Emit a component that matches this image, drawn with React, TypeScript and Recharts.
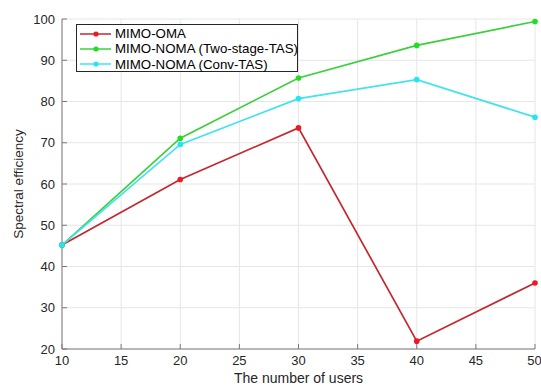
import React from "react";
import {
    LineChart,
    Line,
    XAxis,
    YAxis,
    CartesianGrid
} from "recharts";

// number of users on the x axis
const users = [10, 20, 30, 40, 50];

// spectral efficiency per scheme
const mimoOma = [45.2, 61.1, 73.6, 21.9, 36.0];
const mimoNomaTwoStage = [45.2, 71.1, 85.7, 93.6, 99.4];
const mimoNomaConv = [45.2, 69.6, 80.7, 85.3, 76.2];

const xTicks = [10, 15, 20, 25, 30, 35, 40, 45, 50];
const yTicks = [20, 30, 40, 50, 60, 70, 80, 90, 100];

const seriesNames = [
    "MIMO-OMA",
    "MIMO-NOMA (Two-stage-TAS)",
    "MIMO-NOMA (Conv-TAS)"
];

const data = users.map((u, i) => ({
    users: u,
    oma: mimoOma[i],
    twoStage: mimoNomaTwoStage[i],
    conv: mimoNomaConv[i]
}));

const series = [
    { key: "oma", name: seriesNames[0], line: "#c4272d", dot: "#ec1a22" },
    { key: "twoStage", name: seriesNames[1], line: "#3ccf3c", dot: "#22dd22" },
    { key: "conv", name: seriesNames[2], line: "#44e2ee", dot: "#22e6f4" }
];

const font = "'Liberation Sans', Arial, sans-serif";

// legend box drawn over the plot, matlab style
const LegendBox = () => (
    <div
        style={{
            position: "absolute",
            left: 76,
            top: 24,
            width: 222,
            height: 48,
            border: "1px solid #262626",
            background: "#fff",
            fontFamily: font,
            fontSize: 13.3,
            color: "#000",
            paddingTop: 1,
            boxSizing: "border-box",
            whiteSpace: "nowrap"
        }}
    >
        {series.map(s => (
            <div key={s.key} style={{ display: "flex", alignItems: "center", height: 15.3 }}>
                <svg width={38} height={10} style={{ flexShrink: 0 }}>
                    <line x1={3} y1={5} x2={34} y2={5} stroke={s.line} strokeWidth={1.5} />
                    <circle cx={19} cy={5} r={2.6} fill={s.dot} />
                </svg>
                <span style={{ lineHeight: "15px" }}>{s.name}</span>
            </div>
        ))}
    </div>
);

const App: React.FC = () => {
    return (
        <div style={{ position: "absolute", left: 0, top: 0, width: 541, height: 387, background: "#fff" }}>
            <LineChart
                width={541}
                height={387}
                data={data}
                margin={{ top: 19, right: 6, left: 0, bottom: 0 }}
            >
                <CartesianGrid stroke="#e6e6e6" strokeWidth={1} />
                <XAxis
                    dataKey="users"
                    type="number"
                    domain={[10, 50]}
                    ticks={xTicks}
                    height={38}
                    tickSize={-5}
                    tickMargin={12}
                    stroke="#7a7a7a"
                    tick={{ fill: "#262626", fontSize: 13, fontFamily: font }}
                    label={{
                        value: "The number of users",
                        position: "insideBottom",
                        offset: 4,
                        style: { fill: "#262626", fontSize: 14, fontFamily: font }
                    }}
                />
                <YAxis
                    type="number"
                    domain={[20, 100]}
                    ticks={yTicks}
                    width={62}
                    tickSize={-5}
                    tickMargin={12}
                    stroke="#7a7a7a"
                    tick={{ fill: "#262626", fontSize: 13, fontFamily: font }}
                    label={{
                        value: "Spectral efficiency",
                        angle: -90,
                        position: "insideLeft",
                        offset: 18,
                        style: { fill: "#262626", fontSize: 13.5, fontFamily: font, textAnchor: "middle" }
                    }}
                />
                {series.map(s => (
                    <Line
                        key={s.key}
                        dataKey={s.key}
                        name={s.name}
                        stroke={s.line}
                        strokeWidth={1.7}
                        dot={{ r: 2.8, fill: s.dot, stroke: s.dot, strokeWidth: 0 }}
                        activeDot={false}
                        isAnimationActive={false}
                    />
                ))}
            </LineChart>
            <LegendBox />
        </div>
    );
};

export default App;
